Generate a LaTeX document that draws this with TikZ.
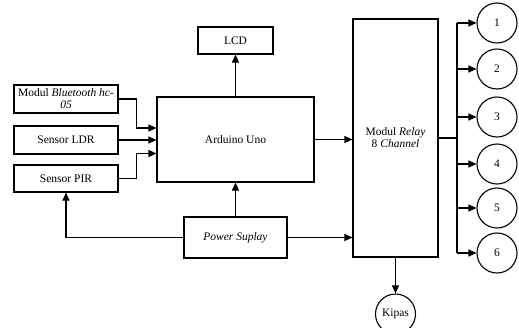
\documentclass[tikz,border=0pt]{standalone}
\usepackage{fontspec}
\setmainfont{Liberation Serif}
\usepackage{tikz}
\usetikzlibrary{positioning, arrows.meta, calc}

\begin{document}
\begin{tikzpicture}[
    x=1pt,y=-1pt,
    line width=1.1pt,
    font=\fontsize{11.5}{12}\selectfont,
    block/.style={draw, rectangle, align=center, fill=white, inner sep=1pt},
    output/.style={draw, circle, minimum size=40pt, inner sep=0pt, fill=white},
    arr/.style={-{Triangle[length=8pt,width=7pt]}}
]
    \useasboundingbox (0,0) rectangle (519,327);

    % ================= INPUTS =================
    \node[block, minimum width=104pt, minimum height=28pt] (BT) at (66, 99) {Modul \textit{Bluetooth hc-}\\\textit{05}};
    \node[block, minimum width=104pt, minimum height=28pt] (LDR) at (66, 140) {Sensor LDR};
    \node[block, minimum width=104pt, minimum height=27pt] (PIR) at (66, 178.5) {Sensor PIR};

    % ================= CONTROLLER =================
    \node[block, minimum width=157pt, minimum height=85pt] (ARD) at (235.5, 139.5) {Arduino Uno};
    \node[block, minimum width=75pt, minimum height=27pt] (LCD) at (235.5, 40.5) {LCD};
    \node[block, minimum width=103pt, minimum height=41pt] (PWR) at (235.5, 237.5) {\textit{Power Suplay}};

    % ================= RELAY & LOADS =================
    \node[block, minimum width=85pt, minimum height=238pt] (RELAY) at (395.5, 138) {Modul \textit{Relay}\\8 \textit{Channel}};
    \coordinate (BUS) at (457, 138);

    \node[output] (O1) at (497, 23) {1};
    \node[output] (O2) at (497, 69) {2};
    \node[output] (O3) at (497, 117) {3};
    \node[output] (O4) at (497, 164) {4};
    \node[output] (O5) at (497, 208) {5};
    \node[output] (O6) at (497, 253) {6};
    \node[output] (KIPAS) at (395.5, 314) {Kipas};

    % ================= CONNECTIONS =================

    % inputs -> Arduino
    \draw[arr] (BT.east) -- ++(18,0) |- ([yshift=11.5pt]ARD.west);
    \draw[arr] (LDR.east) -- (LDR.east -| ARD.west);
    \draw[arr] (PIR.east) -- ++(18,0) |- ([yshift=-14pt]ARD.west);

    % Arduino -> LCD, Relay
    \draw[arr] (ARD.north) -- (LCD.south);
    \draw[arr] (ARD.east) -- (ARD.east -| RELAY.west);

    % Power supply
    \draw[arr] (PWR.north) -- (ARD.south);
    \draw[arr] (PWR.west) -| (PIR.south);
    \draw[arr] (PWR.east) -- (PWR.east -| RELAY.west);

    % Relay -> loads
    \draw (RELAY.east |- BUS) -- (BUS);
    \draw (BUS |- O1) -- (BUS |- O6);
    \draw[arr] (BUS |- O1) -- (O1.west);
    \draw[arr] (BUS |- O2) -- (O2.west);
    \draw[arr] (BUS |- O3) -- (O3.west);
    \draw[arr] (BUS |- O4) -- (O4.west);
    \draw[arr] (BUS |- O5) -- (O5.west);
    \draw[arr] (BUS |- O6) -- (O6.west);
    \draw[arr] (RELAY.south) -- (KIPAS.north);

\end{tikzpicture}
\end{document}
